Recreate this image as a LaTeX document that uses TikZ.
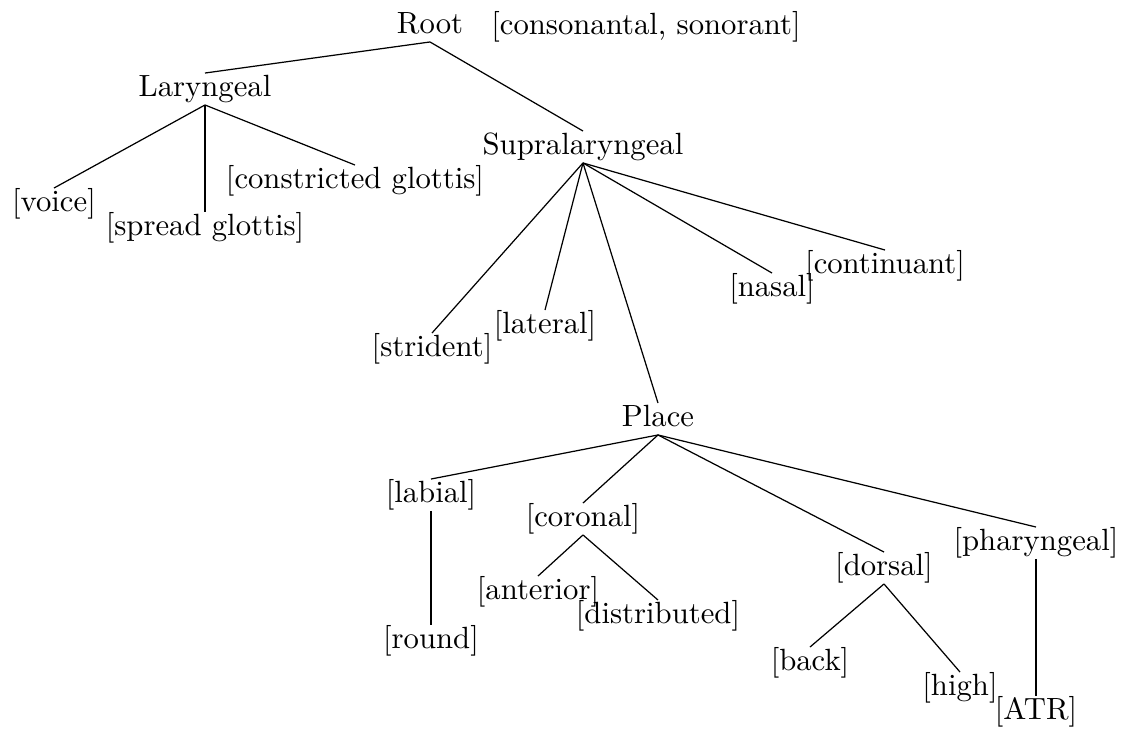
\documentclass[tikz,border=0pt]{standalone}
\begin{document}
\begin{tikzpicture}[x=0.01145cm,y=-0.01145cm,
  every node/.style={inner sep=0pt,text height=7.5pt,text depth=2.5pt}]
\useasboundingbox (0,0) rectangle (1136,729);
\node (root) at (430,26) {Root};
\node (feat) at (646,27) {[consonantal, sonorant]};
\node (lar) at (205,89) {Laryngeal};
\node (supra) at (583,147) {Supralaryngeal};
\node (voice) at (54,204) {[voice]};
\node (spread) at (205,228) {[spread glottis]};
\node (constr) at (355,181) {[constricted glottis]};
\node (strid) at (432,349) {[strident]};
\node (lat) at (545,326) {[lateral]};
\node (nasal) at (772,289) {[nasal]};
\node (cont) at (885,266) {[continuant]};
\node (place) at (658,419) {Place};
\node (lab) at (431,495) {[labial]};
\node (cor) at (583,519) {[coronal]};
\node (dors) at (884,568) {[dorsal]};
\node (phar) at (1036,543) {[pharyngeal]};
\node (round) at (431,641) {[round]};
\node (ant) at (538,592) {[anterior]};
\node (dist) at (658,616) {[distributed]};
\node (back) at (810,663) {[back]};
\node (high) at (960,688) {[high]};
\node (atr) at (1036,712) {[ATR]};
\path[draw,-] (root.south) -- (lar.north);
\path[draw,-] (root.south) -- (supra.north);
\path[draw,-] (lar.south) -- (voice.north);
\path[draw,-] (lar.south) -- (spread.north);
\path[draw,-] (lar.south) -- (constr.north);
\path[draw,-] (supra.south) -- (strid.north);
\path[draw,-] (supra.south) -- (lat.north);
\path[draw,-] (supra.south) -- (place.north);
\path[draw,-] (supra.south) -- (nasal.north);
\path[draw,-] (supra.south) -- (cont.north);
\path[draw,-] (place.south) -- (lab.north);
\path[draw,-] (place.south) -- (cor.north);
\path[draw,-] (place.south) -- (dors.north);
\path[draw,-] (place.south) -- (phar.north);
\path[draw,-] (lab.south) -- (round.north);
\path[draw,-] (cor.south) -- (ant.north);
\path[draw,-] (cor.south) -- (dist.north);
\path[draw,-] (dors.south) -- (back.north);
\path[draw,-] (dors.south) -- (high.north);
\path[draw,-] (phar.south) -- (atr.north);
\end{tikzpicture}
\end{document}
